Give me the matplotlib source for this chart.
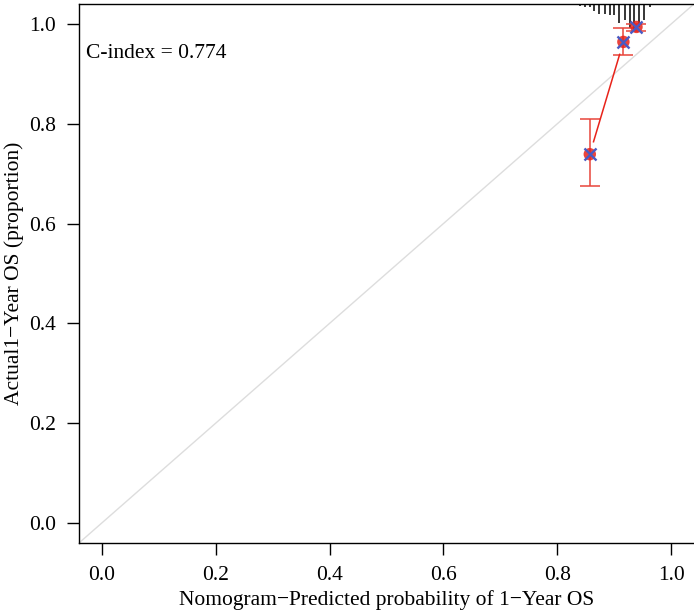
import numpy as np
import matplotlib.pyplot as plt

plt.rcParams['font.family'] = ['Liberation Serif', 'DejaVu Serif']

# calibration points (predicted vs observed)
pred = [0.857, 0.916, 0.939]
obs = [0.739, 0.964, 0.994]
ci_low = [0.675, 0.938, 0.986]
ci_high = [0.810, 0.992, 1.000]

# distribution of predicted risk (spike histogram hanging from the top)
rug_x = [0.839, 0.848, 0.857, 0.865, 0.874, 0.883, 0.892, 0.900, 0.909,
         0.918, 0.927, 0.935, 0.944, 0.953, 0.962]
rug_len = [0.004, 0.006, 0.006, 0.014, 0.020, 0.020, 0.022, 0.022, 0.038,
           0.032, 0.048, 0.052, 0.046, 0.032, 0.006]

c_index = 0.774
ticks = [0.0, 0.2, 0.4, 0.6, 0.8, 1.0]

fig = plt.figure(figsize=(6.94, 6.11), dpi=100)
ax = fig.add_axes([0.1138, 0.1113, 0.8862, 0.8822])
ax.set_xlim(-0.04, 1.04)
ax.set_ylim(-0.04, 1.04)

# ideal line
ax.plot([-0.04, 1.04], [-0.04, 1.04], color='#dddddd', lw=1.0, zorder=1)

# spikes
ax.vlines(rug_x, [1.04 - l for l in rug_len], 1.04, color='black', lw=1.1, zorder=2)

# error bars
ax.errorbar(pred, obs, yerr=[np.array(obs) - np.array(ci_low), np.array(ci_high) - np.array(obs)],
            fmt='none', ecolor='#e8463c', elinewidth=1.3, capsize=7, capthick=1.3,
            alpha=0.85, zorder=3)

# connecting line with gaps around the points (like R type="b")
gap = 13.0
pts = ax.transData.transform(np.column_stack([pred, obs]))
inv = ax.transData.inverted()
for p0, p1 in zip(pts[:-1], pts[1:]):
    d = p1 - p0
    n = np.hypot(*d)
    if n <= 2 * gap + 2:
        continue
    a = inv.transform(p0 + d / n * gap)
    b = inv.transform(p1 - d / n * gap)
    ax.plot([a[0], b[0]], [a[1], b[1]], color='#e8231a', lw=1.1, zorder=3)

ax.scatter(pred, obs, s=80, color='#e8231a', alpha=0.85, edgecolors='none', zorder=4)
ax.scatter(pred, obs, s=75, marker='x', color='#4a5bc4', linewidths=1.7, zorder=5)

ax.text(-0.028, 0.94, 'C-index = %.3f' % c_index, fontsize=15.5, va='center', ha='left')

ax.set_xticks(ticks)
ax.set_yticks(ticks)
ax.set_xticklabels(['%.1f' % t for t in ticks])
ax.set_yticklabels(['%.1f' % t for t in ticks])
ax.tick_params(direction='out', length=8.5, width=1.0, pad=8, labelsize=15.5)
ax.spines['right'].set_visible(False)
for s in ['left', 'bottom', 'top']:
    ax.spines[s].set_linewidth(1.0)

ax.set_xlabel('Nomogram\u2212Predicted probability of 1\u2212Year OS', fontsize=15.5, labelpad=4)
ax.set_ylabel('Actual1\u2212Year OS (proportion)', fontsize=15.5, labelpad=4)

fig.savefig('out.png', dpi=100)
